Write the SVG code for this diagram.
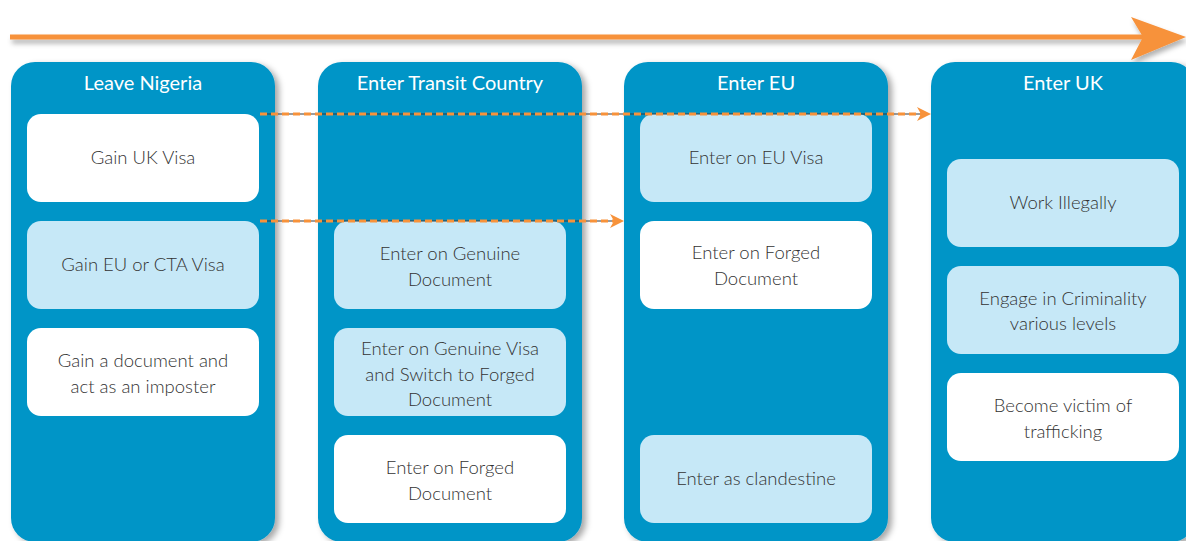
<svg xmlns="http://www.w3.org/2000/svg" width="1186" height="541" viewBox="0 0 1186 541">
<defs>
<filter id="sh" x="-10%" y="-10%" width="130%" height="130%">
<feDropShadow dx="4" dy="3" stdDeviation="3" flood-color="#000" flood-opacity="0.35"/>
</filter>
<filter id="lsh" x="-5%" y="-100%" width="110%" height="400%">
<feDropShadow dx="2" dy="4" stdDeviation="2.5" flood-color="#000" flood-opacity="0.3"/>
</filter>
<marker id="ah" viewBox="0 0 14 14" refX="13" refY="7" markerWidth="14" markerHeight="14" markerUnits="userSpaceOnUse" orient="auto">
<path d="M0,0 L14,7 L0,14 L4,7 Z" fill="#F7923A"/>
</marker>
<style>
.col{fill:#0095C7;filter:url(#sh)}
.hd{font-family:Lato,"Liberation Sans",sans-serif;font-size:20px;fill:#fff;text-anchor:middle}
.bw{fill:#fff}
.bl{fill:#C6E8F7}
.tx{font-family:Lato,"Liberation Sans",sans-serif;font-size:18.5px;fill:#333;text-anchor:middle;font-weight:300}
.dl{stroke:#3a3a3a;stroke-width:1.2;fill:none}
.do{stroke:#F7923A;stroke-width:3;stroke-dasharray:7 4;fill:none}
</style>
</defs>
<g id="timeline" filter="url(#lsh)">
<rect x="10" y="34.5" width="1135" height="5" fill="#F7923A"/>
<path d="M1131,17 L1186,37 L1131,60 L1143,37 Z" fill="#F7923A"/>
</g>
<g id="col-leave-nigeria">
<rect class="col" x="11" y="62" width="264" height="480" rx="24"/>
<text class="hd" x="143" y="90">Leave Nigeria</text>
</g>
<g id="col-transit">
<rect class="col" x="318" y="62" width="264" height="480" rx="24"/>
<text class="hd" x="450" y="90">Enter Transit Country</text>
</g>
<g id="col-eu">
<rect class="col" x="624" y="62" width="264" height="480" rx="24"/>
<text class="hd" x="756" y="90">Enter EU</text>
</g>
<g id="col-uk">
<rect class="col" x="931" y="62" width="264" height="480" rx="24"/>
<text class="hd" x="1063" y="90">Enter UK</text>
</g>
<g id="n-gain-uk-visa">
<rect class="bw" x="27" y="114" width="232" height="88" rx="14"/>
<text class="tx" x="143" y="164">Gain UK Visa</text>
</g>
<g id="n-gain-eu-visa">
<rect class="bl" x="27" y="221" width="232" height="88" rx="14"/>
<text class="tx" x="143" y="271">Gain EU or CTA Visa</text>
</g>
<g id="n-imposter">
<rect class="bw" x="27" y="328" width="232" height="88" rx="14"/>
<text class="tx" x="143" y="367">Gain a document and</text>
<text class="tx" x="143" y="393">act as an imposter</text>
</g>
<g id="n-transit-genuine-doc">
<rect class="bl" x="334" y="221" width="232" height="88" rx="14"/>
<text class="tx" x="450" y="260">Enter on Genuine</text>
<text class="tx" x="450" y="286">Document</text>
</g>
<g id="n-transit-genuine-visa">
<rect class="bl" x="334" y="328" width="232" height="88" rx="14"/>
<text class="tx" x="450" y="355">Enter on Genuine Visa</text>
<text class="tx" x="450" y="381">and Switch to Forged</text>
<text class="tx" x="450" y="406">Document</text>
</g>
<g id="n-transit-forged">
<rect class="bw" x="334" y="435" width="232" height="88" rx="14"/>
<text class="tx" x="450" y="474">Enter on Forged</text>
<text class="tx" x="450" y="500">Document</text>
</g>
<g id="n-eu-visa">
<rect class="bl" x="640" y="114" width="232" height="88" rx="14"/>
<text class="tx" x="756" y="164">Enter on EU Visa</text>
</g>
<g id="n-eu-forged">
<rect class="bw" x="640" y="221" width="232" height="88" rx="14"/>
<text class="tx" x="756" y="259">Enter on Forged</text>
<text class="tx" x="756" y="285">Document</text>
</g>
<g id="n-eu-clandestine">
<rect class="bl" x="640" y="435" width="232" height="88" rx="14"/>
<text class="tx" x="756" y="485">Enter as clandestine</text>
</g>
<g id="n-uk-work">
<rect class="bl" x="947" y="159" width="232" height="88" rx="14"/>
<text class="tx" x="1063" y="209">Work Illegally</text>
</g>
<g id="n-uk-crime">
<rect class="bl" x="947" y="266" width="232" height="88" rx="14"/>
<text class="tx" x="1063" y="305">Engage in Criminality</text>
<text class="tx" x="1063" y="330">various levels</text>
</g>
<g id="n-uk-trafficking">
<rect class="bw" x="947" y="373" width="232" height="88" rx="14"/>
<text class="tx" x="1063" y="412">Become victim of</text>
<text class="tx" x="1063" y="438">trafficking</text>
</g>
<g id="connectors">
<line class="dl" x1="260" y1="114" x2="920" y2="114"/>
<line class="do" x1="260" y1="114" x2="930" y2="114" marker-end="url(#ah)"/>
<line class="dl" x1="260" y1="221" x2="612" y2="221"/>
<line class="do" x1="260" y1="221" x2="623" y2="221" marker-end="url(#ah)"/>
</g>
</svg>
